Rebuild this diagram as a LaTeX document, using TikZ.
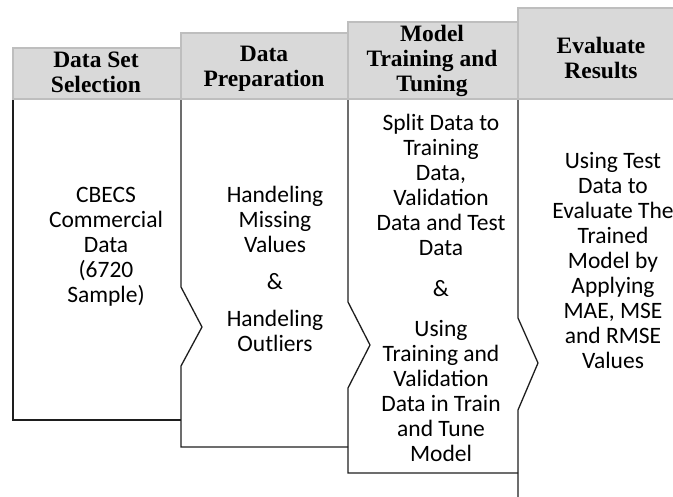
\documentclass[tikz,border=0pt]{standalone}
\usepackage{fontspec}
\usepackage{tikz}
\usetikzlibrary{positioning}
\setmainfont{Liberation Serif}
\newfontfamily\calibrifont{Carlito}
\definecolor{headgray}{RGB}{217,217,217}
\definecolor{headborder}{RGB}{190,190,190}
\definecolor{linegray}{RGB}{30,30,30}

\begin{document}
\begin{tikzpicture}[
    x=1pt, y=-1pt,
    head box/.style={fill=headgray,draw=headborder,line width=2pt},
    head node/.style={align=center,inner sep=0pt,font=\fontsize{23.5}{25}\selectfont\bfseries},
    body node/.style={align=center,inner sep=0pt,font=\fontsize{23.5}{25}\selectfont\calibrifont},
    border/.style={draw=linegray,line width=1.3pt,line join=miter}
]
\useasboundingbox (0,0) rectangle (673,497);

% Column borders
\draw[border] (13,99) -- (13,420) -- (181,420);
\draw[border] (181,99) -- (181,287) -- (202,327) -- (181,366) -- (181,447) -- (348,447);
\draw[border] (348,99) -- (348,302) -- (370,345) -- (348,388) -- (348,473) -- (518,473);
\draw[border] (518,99) -- (518,318) -- (538,363) -- (518,410) -- (518,497);

% Header boxes
\draw[head box] (518,8) rectangle (690,99);
\draw[head box] (348,22) rectangle (518,99);
\draw[head box] (181,33) rectangle (348,99);
\draw[head box] (13,48) rectangle (181,99);

% Headers
\node[head node] (selection) at (96,72.5) {Data Set\\Selection};
\node[head node] (preparation) at (264,69) {Data\\Preparation};
\node[head node] (training) at (432,61) {Model\\Training and\\Tuning};
\node[head node] (evaluate) at (601,58) {Evaluate\\Results};

% Steps
\node[body node] (cbecs) at (106,247) {CBECS\\Commercial\\Data\\(6720\\Sample)};
\node[body node] (handling) at (275,269) {Handeling\\Missing\\Values\\[12pt]\&\\[12pt]Handeling\\Outliers};
\node[body node] (split) at (441,288) {Split Data to\\Training\\Data,\\Validation\\Data and Test\\Data\\[16pt]\&\\[15pt]Using\\Training and\\Validation\\Data in Train\\and Tune\\Model};
\node[body node] (testing) at (613,261) {Using Test\\Data to\\Evaluate The\\Trained\\Model by\\Applying\\MAE, MSE\\and RMSE\\Values};

\end{tikzpicture}
\end{document}
